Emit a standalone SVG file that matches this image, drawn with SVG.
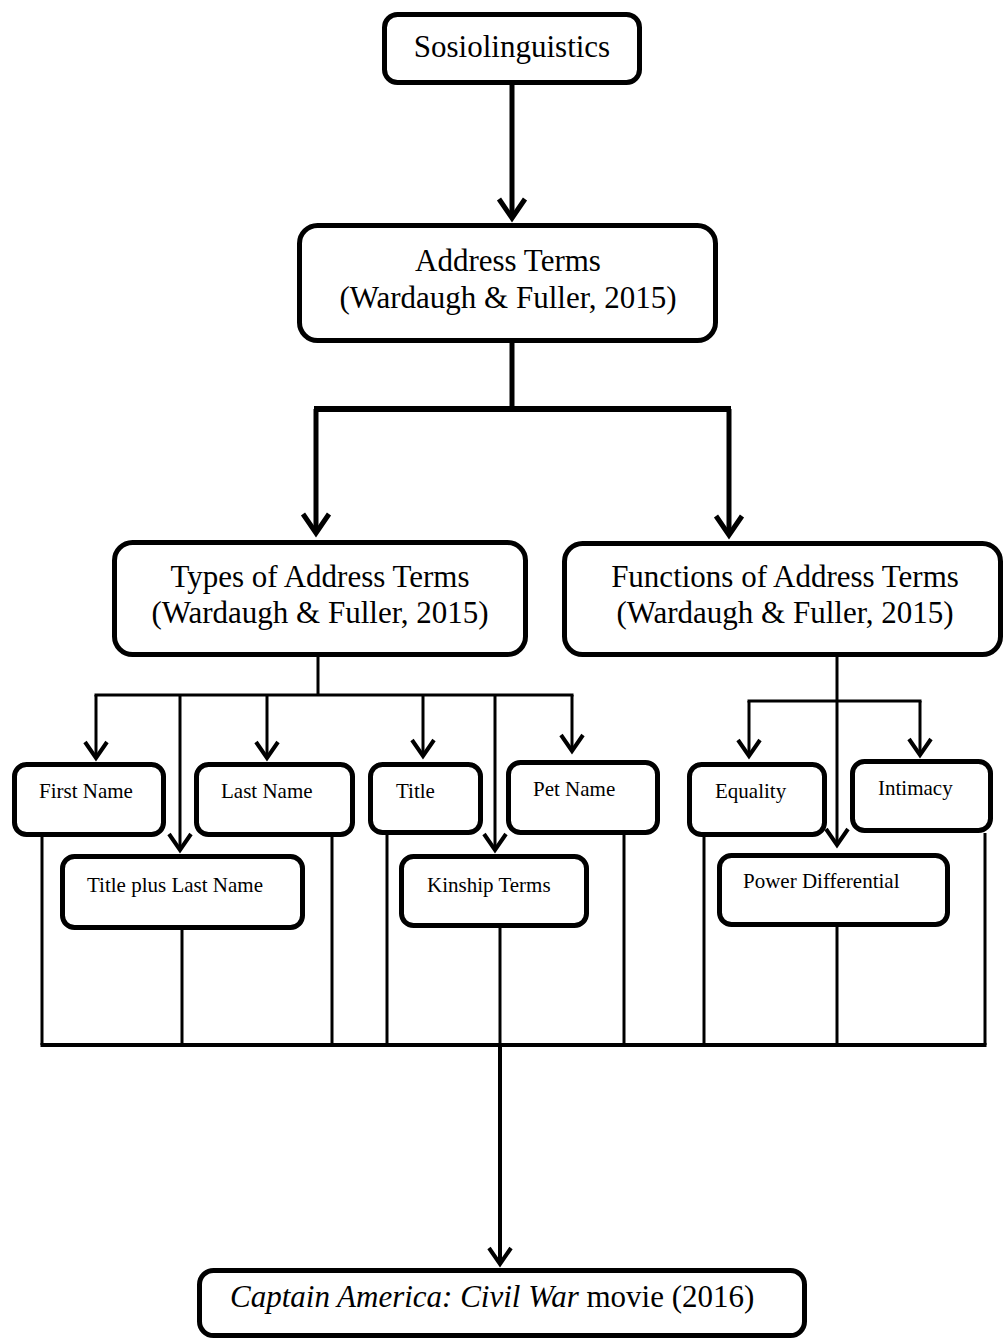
<svg xmlns="http://www.w3.org/2000/svg" width="1006" height="1340" viewBox="0 0 1006 1340">
<style>
.box{fill:#fff;stroke:#000;stroke-width:5}
.big{font-family:"Liberation Serif","Times New Roman",serif;font-size:31px;fill:#000}
.sm{font-family:"Liberation Serif","Times New Roman",serif;font-size:21px;fill:#000}
.c{text-anchor:middle}
.ln{stroke:#000;fill:none}
</style>
<defs>
<marker id="ab" markerUnits="userSpaceOnUse" viewBox="-22 -16 26 32" refX="0" refY="0" markerWidth="26" markerHeight="32" orient="auto" overflow="visible">
<path d="M-19,-13 L0,0 L-19,13" fill="none" stroke="#000" stroke-width="5" stroke-linejoin="miter"/>
</marker>
<marker id="as" markerUnits="userSpaceOnUse" viewBox="-22 -16 26 32" refX="0" refY="0" markerWidth="26" markerHeight="32" orient="auto" overflow="visible">
<path d="M-16,-11 L0,0 L-16,11" fill="none" stroke="#000" stroke-width="4" stroke-linejoin="miter"/>
</marker>
</defs>
<rect width="1006" height="1340" fill="#fff"/>
<g id="connectors">
<line class="ln" stroke-width="5" x1="512" y1="84" x2="512" y2="218" marker-end="url(#ab)"/>
<line class="ln" stroke-width="5" x1="512" y1="341" x2="512" y2="409"/>
<line class="ln" stroke-width="6" x1="314" y1="409" x2="731" y2="409"/>
<line class="ln" stroke-width="5" x1="316" y1="409" x2="316" y2="533" marker-end="url(#ab)"/>
<line class="ln" stroke-width="5" x1="729" y1="409" x2="729" y2="535" marker-end="url(#ab)"/>
<line class="ln" stroke-width="3" x1="318" y1="657" x2="318" y2="695"/>
<line class="ln" stroke-width="3" x1="94.5" y1="695" x2="573.5" y2="695"/>
<line class="ln" stroke-width="3" x1="96" y1="695" x2="96" y2="758" marker-end="url(#as)"/>
<line class="ln" stroke-width="3" x1="180" y1="695" x2="180" y2="850" marker-end="url(#as)"/>
<line class="ln" stroke-width="3" x1="267" y1="695" x2="267" y2="758" marker-end="url(#as)"/>
<line class="ln" stroke-width="3" x1="423" y1="695" x2="423" y2="756" marker-end="url(#as)"/>
<line class="ln" stroke-width="3" x1="495" y1="695" x2="495" y2="850" marker-end="url(#as)"/>
<line class="ln" stroke-width="3" x1="572" y1="695" x2="572" y2="751" marker-end="url(#as)"/>
<line class="ln" stroke-width="3" x1="837" y1="655" x2="837" y2="845" marker-end="url(#as)"/>
<line class="ln" stroke-width="3" x1="747.5" y1="701" x2="921.5" y2="701"/>
<line class="ln" stroke-width="3" x1="749" y1="701" x2="749" y2="756" marker-end="url(#as)"/>
<line class="ln" stroke-width="3" x1="920" y1="701" x2="920" y2="755" marker-end="url(#as)"/>
<line class="ln" stroke-width="3" x1="42" y1="837" x2="42" y2="1045"/>
<line class="ln" stroke-width="3" x1="182" y1="930" x2="182" y2="1045"/>
<line class="ln" stroke-width="3" x1="332" y1="837" x2="332" y2="1045"/>
<line class="ln" stroke-width="3" x1="387" y1="835" x2="387" y2="1045"/>
<line class="ln" stroke-width="3" x1="500" y1="928" x2="500" y2="1045"/>
<line class="ln" stroke-width="3" x1="624" y1="835" x2="624" y2="1045"/>
<line class="ln" stroke-width="3" x1="704" y1="837" x2="704" y2="1045"/>
<line class="ln" stroke-width="3" x1="837" y1="927" x2="837" y2="1045"/>
<line class="ln" stroke-width="3" x1="985" y1="833" x2="985" y2="1045"/>
<line class="ln" stroke-width="4" x1="40.5" y1="1045" x2="986.5" y2="1045"/>
<line class="ln" stroke-width="4" x1="500" y1="1045" x2="500" y2="1264" marker-end="url(#as)"/>
</g>
<g id="n-sosio">
<rect class="box" x="384.5" y="14.5" width="255" height="68" rx="13"/>
<text class="big c" x="512" y="57">Sosiolinguistics</text>
</g>
<g id="n-address">
<rect class="box" x="299.5" y="225.5" width="416" height="115" rx="18"/>
<text class="big c" x="508" y="271">Address Terms</text>
<text class="big c" x="508" y="308">(Wardaugh &amp; Fuller, 2015)</text>
</g>
<g id="n-types">
<rect class="box" x="114.5" y="542.5" width="411" height="112" rx="18"/>
<text class="big c" x="320" y="587">Types of Address Terms</text>
<text class="big c" x="320" y="623">(Wardaugh &amp; Fuller, 2015)</text>
</g>
<g id="n-functions">
<rect class="box" x="564.5" y="543.5" width="436" height="111" rx="18"/>
<text class="big c" x="785" y="587">Functions of Address Terms</text>
<text class="big c" x="785" y="623">(Wardaugh &amp; Fuller, 2015)</text>
</g>
<g id="n-first">
<rect class="box" x="14.5" y="764.5" width="149" height="70" rx="12"/>
<text class="sm" x="39" y="798">First Name</text>
</g>
<g id="n-last">
<rect class="box" x="196.5" y="764.5" width="156" height="70" rx="12"/>
<text class="sm" x="221" y="798">Last Name</text>
</g>
<g id="n-titleplus">
<rect class="box" x="62.5" y="856.5" width="240" height="71" rx="12"/>
<text class="sm" x="87" y="892">Title plus Last Name</text>
</g>
<g id="n-title">
<rect class="box" x="370.5" y="764.5" width="110" height="68" rx="12"/>
<text class="sm" x="396" y="798">Title</text>
</g>
<g id="n-pet">
<rect class="box" x="508.5" y="762.5" width="149" height="70" rx="12"/>
<text class="sm" x="533" y="796">Pet Name</text>
</g>
<g id="n-kinship">
<rect class="box" x="401.5" y="856.5" width="185" height="69" rx="12"/>
<text class="sm" x="427" y="892">Kinship Terms</text>
</g>
<g id="n-equality">
<rect class="box" x="689.5" y="764.5" width="135" height="70" rx="12"/>
<text class="sm" x="715" y="798">Equality</text>
</g>
<g id="n-intimacy">
<rect class="box" x="852.5" y="761.5" width="138" height="69" rx="12"/>
<text class="sm" x="878" y="795">Intimacy</text>
</g>
<g id="n-power">
<rect class="box" x="719.5" y="855.5" width="228" height="69" rx="12"/>
<text class="sm" x="743" y="888">Power Differential</text>
</g>
<g id="n-movie">
<rect class="box" x="199.5" y="1270.5" width="605" height="65" rx="14"/>
<text class="big" x="230" y="1307"><tspan font-style="italic">Captain America: Civil War</tspan> movie (2016)</text>
</g>
</svg>
